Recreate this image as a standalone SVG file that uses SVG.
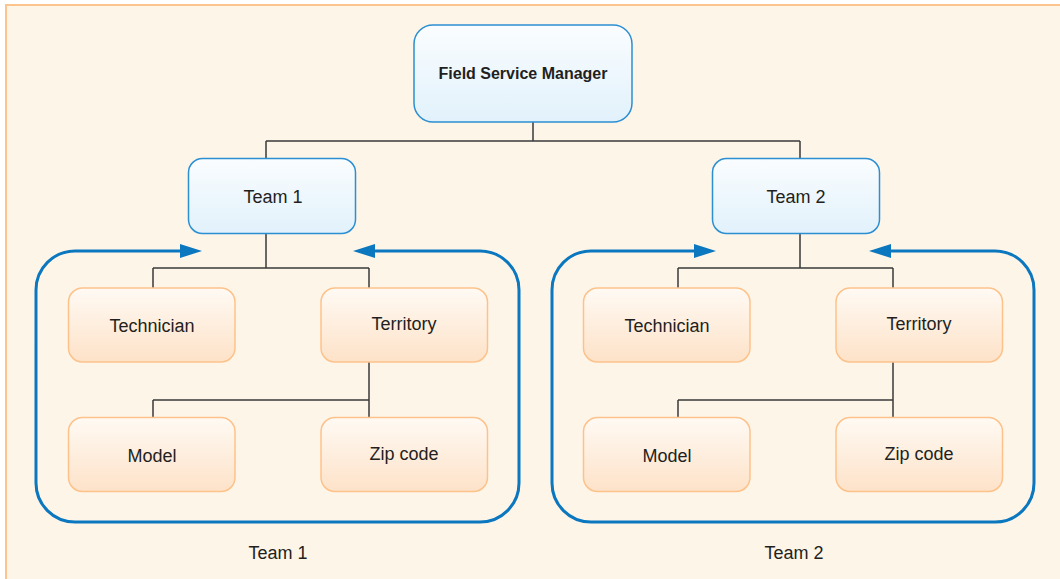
<svg xmlns="http://www.w3.org/2000/svg" width="1060" height="579" viewBox="0 0 1060 579">
<defs>
<linearGradient id="gBlue" x1="0" y1="0" x2="0" y2="1"><stop offset="0" stop-color="#FAFDFF"/><stop offset="1" stop-color="#E1F1FB"/></linearGradient>
<linearGradient id="gOrange" x1="0" y1="0" x2="0" y2="1"><stop offset="0" stop-color="#FFFAF4"/><stop offset="1" stop-color="#FDE2C8"/></linearGradient>
<marker id="arr" markerUnits="userSpaceOnUse" markerWidth="22" markerHeight="14" refX="0" refY="7" orient="auto-start-reverse" viewBox="0 0 22 14"><path d="M0,0 L22,7 L0,14 z" fill="#0A77BF"/></marker>
</defs>
<style>
.bg{fill:#FEF5E9;stroke:#FDC48E;stroke-width:2}
.blue{fill:url(#gBlue);stroke:#2B8FD1;stroke-width:1.5}
.orange{fill:url(#gOrange);stroke:#FDC28A;stroke-width:1.5}
.t{font-family:"Liberation Sans",Arial,sans-serif;font-size:18px;fill:#231F20;text-anchor:middle}
.tb{font-family:"Liberation Sans",Arial,sans-serif;font-size:16px;font-weight:bold;fill:#231F20;text-anchor:middle}
.conn{fill:none;stroke:#3A3A3A;stroke-width:1.5}
.loop{fill:none;stroke:#0A77BF;stroke-width:3}
</style>
<rect class="bg" x="6" y="5" width="1070" height="590"/>
<g id="connectors">
<path class="conn" d="M533,122 V141 M266,141 H800 M266,141 V158 M800,141 V158"/>
<path class="conn" d="M266,233 V268 M153,268 H369 M153,268 V288 M369,268 V288"/>
<path class="conn" d="M369,362 V417 M153,400 H369 M153,400 V417"/>
<path class="conn" d="M800,233 V268 M678,268 H893 M678,268 V288 M893,268 V288"/>
<path class="conn" d="M893,362 V417 M678,400 H893 M678,400 V417"/>
<path class="loop" marker-start="url(#arr)" marker-end="url(#arr)" d="M375,251 H480 A39,39 0 0 1 519,290 V483 A39,39 0 0 1 480,522 H75 A39,39 0 0 1 36,483 V290 A39,39 0 0 1 75,251 H180"/>
<path class="loop" marker-start="url(#arr)" marker-end="url(#arr)" d="M891,251 H995 A39,39 0 0 1 1034,290 V483 A39,39 0 0 1 995,522 H591 A39,39 0 0 1 552,483 V290 A39,39 0 0 1 591,251 H694"/>
</g>
<g id="fsm"><rect class="blue" x="414" y="25" width="218" height="97" rx="19"/><text class="tb" x="523" y="79">Field Service Manager</text></g>
<g id="team1"><rect class="blue" x="188.5" y="158.5" width="167" height="75" rx="14"/><text class="t" x="273" y="203">Team 1</text></g>
<g id="team2"><rect class="blue" x="712.5" y="158.5" width="167" height="75" rx="14"/><text class="t" x="796" y="203">Team 2</text></g>
<g id="technician1"><rect class="orange" x="68.5" y="288" width="166.5" height="74" rx="14"/><text class="t" x="152" y="332">Technician</text></g>
<g id="territory1"><rect class="orange" x="321" y="288" width="166.5" height="74" rx="14"/><text class="t" x="404" y="330">Territory</text></g>
<g id="model1"><rect class="orange" x="68.5" y="417.5" width="166.5" height="74" rx="14"/><text class="t" x="152" y="462">Model</text></g>
<g id="zip1"><rect class="orange" x="321" y="417.5" width="166.5" height="74" rx="14"/><text class="t" x="404" y="460">Zip code</text></g>
<g id="technician2"><rect class="orange" x="583.5" y="288" width="166.5" height="74" rx="14"/><text class="t" x="667" y="332">Technician</text></g>
<g id="territory2"><rect class="orange" x="836" y="288" width="166.5" height="74" rx="14"/><text class="t" x="919" y="330">Territory</text></g>
<g id="model2"><rect class="orange" x="583.5" y="417.5" width="166.5" height="74" rx="14"/><text class="t" x="667" y="462">Model</text></g>
<g id="zip2"><rect class="orange" x="836" y="417.5" width="166.5" height="74" rx="14"/><text class="t" x="919" y="460">Zip code</text></g>
<g id="label1"><text class="t" x="278" y="559">Team 1</text></g>
<g id="label2"><text class="t" x="794" y="559">Team 2</text></g>
</svg>
